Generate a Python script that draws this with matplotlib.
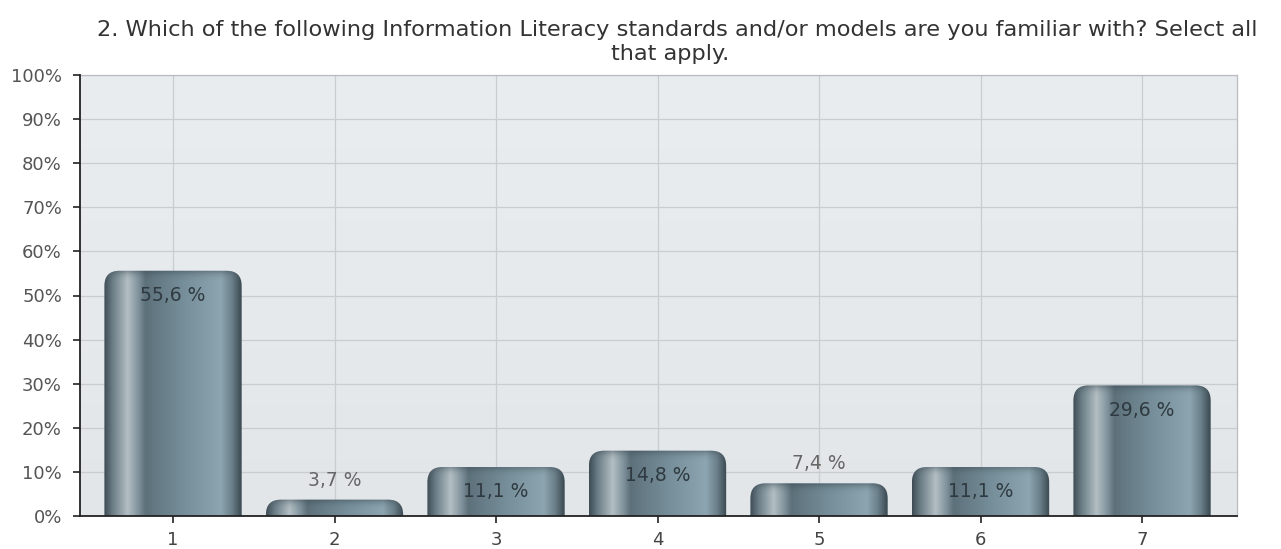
import numpy as np
import matplotlib
matplotlib.use("Agg")
import matplotlib.pyplot as plt
from matplotlib.patches import FancyBboxPatch
from matplotlib.colors import LinearSegmentedColormap

categories = ["1", "2", "3", "4", "5", "6", "7"]
values = [55.6, 3.7, 11.1, 14.8, 7.4, 11.1, 29.6]
value_labels = ["55,6 %", "3,7 %", "11,1 %", "14,8 %", "7,4 %", "11,1 %", "29,6 %"]
yticks = [0, 10, 20, 30, 40, 50, 60, 70, 80, 90, 100]
ytick_labels = [f"{t}%" for t in yticks]
title = "2. Which of the following Information Literacy standards and/or models are you familiar with? Select all\nthat apply."

plt.rcParams['font.family'] = ['DejaVu Sans']

W, H = 1281, 549
fig = plt.figure(figsize=(W / 100, H / 100), dpi=100)
ax = fig.add_axes([80 / W, 33 / H, (1237 - 80) / W, (516 - 75) / H])

xlim = (0.424, 7.588)
ylim = (0, 100)
ax.set_xlim(*xlim)
ax.set_ylim(*ylim)

# background gradient
bg = np.linspace(0, 1, 256).reshape(-1, 1)
bg_cmap = LinearSegmentedColormap.from_list("bg", ["#e3e6e9", "#e7eaed", "#eaedf0"])
ax.imshow(bg, extent=[xlim[0], xlim[1], 0, 100], origin="lower", aspect="auto",
          cmap=bg_cmap, zorder=0)

ax.set_axisbelow(True)
ax.grid(True, color="#c9ccd0", linewidth=0.9, zorder=1)

x = np.arange(1, len(categories) + 1)
bar_w = 0.85

# pixel scales
px_per_x = (1237 - 80) / (xlim[1] - xlim[0])
px_per_y = (516 - 75) / 100.0
aspect = px_per_x / px_per_y
radius_px = 15
rs = radius_px / px_per_x

bar_cmap = LinearSegmentedColormap.from_list("bar", [
    (0.00, "#3f4d55"),
    (0.06, "#6a7c85"),
    (0.17, "#b3bfc4"),
    (0.24, "#8798a1"),
    (0.30, "#5d717b"),
    (0.55, "#748c97"),
    (0.85, "#8da5b0"),
    (0.93, "#6a7f89"),
    (1.00, "#3a4850"),
])
grad = np.linspace(0, 1, 256).reshape(1, -1)

for xi, v, lab in zip(x, values, value_labels):
    left = xi - bar_w / 2
    patch = FancyBboxPatch((left, -10), bar_w, v + 10,
                           boxstyle=f"round,pad=0,rounding_size={rs}",
                           mutation_aspect=aspect,
                           facecolor="none", edgecolor="none", zorder=3)
    ax.add_patch(patch)
    im = ax.imshow(grad, extent=[left, left + bar_w, -10, v], aspect="auto",
                   cmap=bar_cmap, zorder=3, interpolation="bilinear")
    im.set_clip_path(patch)
    cap = np.linspace(0, 1, 64)
    cap_rgba = np.zeros((64, 1, 4))
    cap_rgba[:, 0, 0] = 0.2
    cap_rgba[:, 0, 1] = 0.26
    cap_rgba[:, 0, 2] = 0.3
    cap_rgba[:, 0, 3] = (cap ** 3) * 0.5
    cap_h = min(3.0, v)
    im2 = ax.imshow(cap_rgba, extent=[left, left + bar_w, v - cap_h, v], origin="lower",
                    aspect="auto", zorder=3.5, interpolation="bilinear")
    im2.set_clip_path(patch)
    if v > 10:
        ax.text(xi, v - 5.6, lab, ha="center", va="center", fontsize=13.5,
                color="#2f3a40", zorder=5)
    else:
        ax.text(xi, v + 4.4, lab, ha="center", va="center", fontsize=13.5,
                color="#666666", zorder=5)

ax.set_xticks(x)
ax.set_xticklabels(categories, fontsize=13, color="#444444")
ax.set_yticks(yticks)
ax.set_yticklabels(ytick_labels, fontsize=13, color="#555555")
ax.tick_params(axis="y", direction="out", length=5, width=1.2, color="#222222", pad=8)
ax.tick_params(axis="x", direction="out", length=5, width=1.2, color="#222222", pad=6)

for s in ["left", "bottom"]:
    ax.spines[s].set_color("#222222")
    ax.spines[s].set_linewidth(1.3)
    ax.spines[s].set_zorder(6)
for s in ["right", "top"]:
    ax.spines[s].set_color("#b8bbbf")
    ax.spines[s].set_linewidth(0.9)

fig.text(677 / W, 1 - 30 / H, title.split("\n")[0], ha="center", va="center",
         fontsize=16.2, color="#333333")
fig.text(670 / W, 1 - 54 / H, title.split("\n")[1], ha="center", va="center",
         fontsize=16.2, color="#333333")

fig.savefig("out.png", dpi=100)
